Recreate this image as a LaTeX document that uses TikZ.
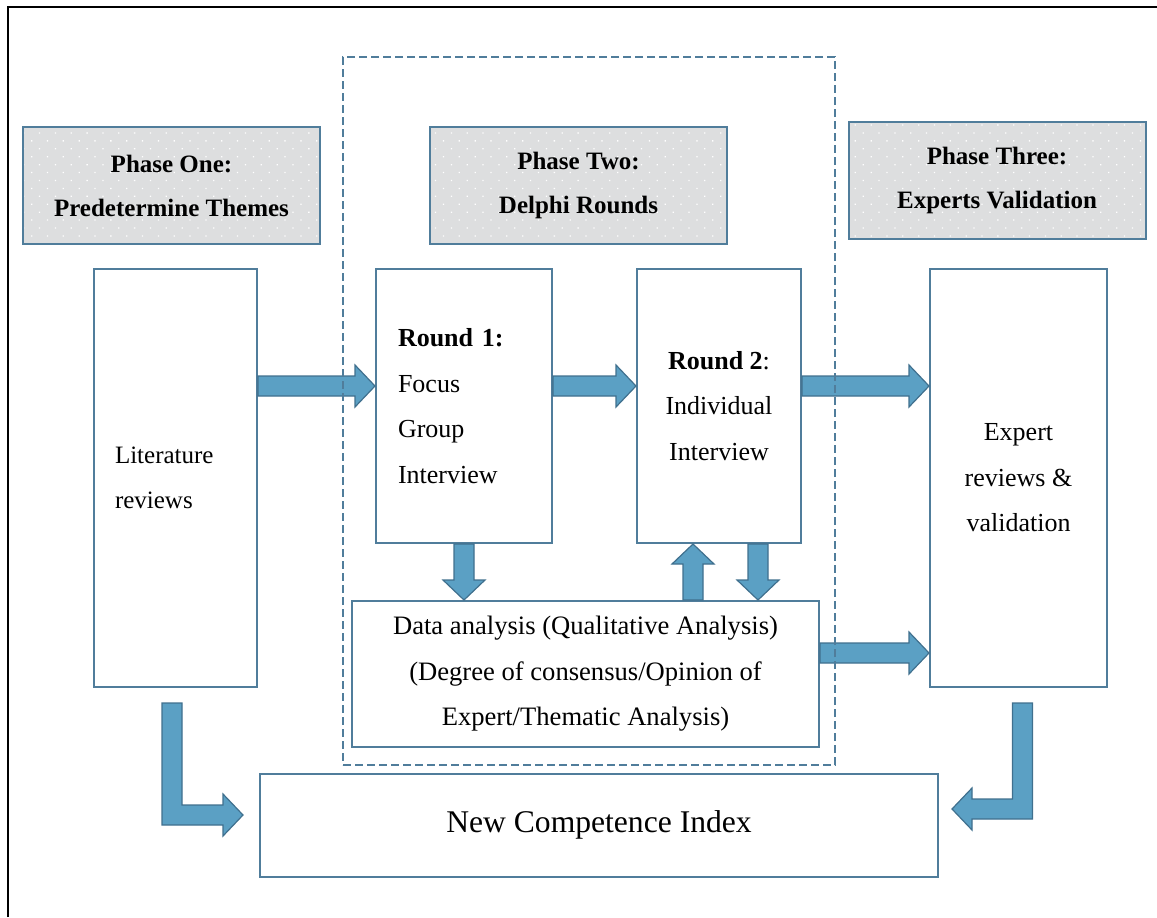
\documentclass[tikz,border=0pt]{standalone}
\usepackage{fontspec}
\setmainfont{Liberation Serif}
\usepackage{tikz}
\usetikzlibrary{calc}
\usetikzlibrary{patterns.meta}
\definecolor{boxline}{RGB}{80,125,155}
\definecolor{arrowfill}{RGB}{91,160,196}
\definecolor{arrowline}{RGB}{64,112,142}
\definecolor{phasefill}{RGB}{221,222,223}
\newcommand{\fatshaft}{5pt}
\newcommand{\fathead}{10.5pt}
\newcommand{\fatlen}{10pt}
\tikzset{every picture/.style={x=0.5pt,y=-0.5pt},
box/.style={draw=boxline,line width=1pt,fill=white,inner sep=0pt,align=center,font=\fontsize{13}{22.75}\selectfont},
phase/.style={draw=boxline,line width=1pt,preaction={fill=phasefill},pattern={Dots[distance=5.6pt,radius=0.45pt,angle=45]},pattern color=white,
  minimum width=148.5pt,minimum height=58.5pt,align=center,font=\fontsize{12.5}{22}\selectfont\bfseries},
fatarrow/.style={draw=arrowline,fill=arrowfill,line width=0.6pt,
  to path={let \p1=(\tikztostart), \p2=(\tikztotarget), \p3=($(\p2)!\fatlen!(\p1)$) in
    ($(\p1)!\fatshaft!90:(\p2)$) -- ($(\p3)!\fatshaft!270:(\p1)$) -- ($(\p3)!\fathead!270:(\p1)$) -- (\p2)
    -- ($(\p3)!\fathead!90:(\p1)$) -- ($(\p3)!\fatshaft!90:(\p1)$) -- ($(\p1)!\fatshaft!270:(\p2)$) -- cycle}},
bentarrow/.style={draw=arrowline,fill=arrowfill,line width=0.6pt,
  to path={let \p1=(\tikztostart), \p2=(\tikztotarget), \n1={(\x2-\x1)/abs(\x2-\x1)} in
    ({\x1-(\n1)*\fatshaft},\y1) -- ({\x1+(\n1)*\fatshaft},\y1) -- ({\x1+(\n1)*\fatshaft},{\y2+\fatshaft})
    -- ({\x2-(\n1)*\fatlen},{\y2+\fatshaft}) -- ({\x2-(\n1)*\fatlen},{\y2+\fathead}) -- (\p2)
    -- ({\x2-(\n1)*\fatlen},{\y2-\fathead}) -- ({\x2-(\n1)*\fatlen},{\y2-\fatshaft})
    -- ({\x1-(\n1)*\fatshaft},{\y2-\fatshaft}) -- cycle}}}
\begin{document}
\begin{tikzpicture}
\useasboundingbox (0,0) rectangle (1157,917);
\draw[line width=1.3pt] (8,917) -- (8,7) -- (1157,7);
% phase headers
\node[phase] (p1) at (171.5,185.5) {Phase One:\\Predetermine Themes};
\node[phase] (p2) at (578.5,185.5) {Phase Two:\\Delphi Rounds};
\node[phase] (p3) at (997,180.5) {Phase Three:\\Experts Validation};
% boxes
\node[box,align=left,text width=60.5pt,inner xsep=10.5pt,minimum height=209pt,font=\fontsize{12.5}{22.5}\selectfont] (lit) at (175.5,478) {Literature\\reviews};
\node[box,align=left,text width=66pt,inner xsep=11pt,minimum height=137pt] (r1) at (464,406) {\textbf{Round 1:}\\Focus\\Group\\Interview};
\node[box,minimum width=82pt,minimum height=137pt] (r2) at (719,406) {\textbf{Round 2}:\\Individual\\Interview};
\node[box,minimum width=88.5pt,minimum height=209pt] (expert) at (1018.5,478) {Expert\\reviews \&\\validation};
\node[box,minimum width=233.5pt,minimum height=73pt,font=\fontsize{13.3}{22.8}\selectfont] (da) at (585.5,674) {Data analysis (Qualitative Analysis)\\(Degree of consensus/Opinion of\\Expert/Thematic Analysis)};
\node[box,minimum width=339pt,minimum height=51.5pt,font=\fontsize{15.8}{20}\selectfont] (nci) at (599,825) {New Competence Index};
% arrows
\coordinate (flow) at (0,386);
\coordinate (back) at (0,653);
\coordinate (upcol) at (693,0);
\coordinate (downcol) at (758,0);
\draw[fatarrow] (lit.east |- flow) to (r1.west |- flow);
\draw[fatarrow] (r1.east |- flow) to (r2.west |- flow);
\draw[fatarrow] (r2.east |- flow) to (expert.west |- flow);
\draw[fatarrow] (da.east |- back) to (expert.west |- back);
\draw[fatarrow] (r1.south) to (r1.south |- da.north);
\draw[fatarrow] (upcol |- da.north) to (upcol |- r2.south);
\draw[fatarrow] (downcol |- r2.south) to (downcol |- da.north);
\draw[bentarrow] ([shift={(-3.5,15)}]lit.south) to ([shift={(-16,-10)}]nci.west);
\draw[bentarrow] ([shift={(4,15)}]expert.south) to ([shift={(13,-16)}]nci.east);
% delphi frame
\node[draw=boxline,line width=1pt,dash pattern=on 4pt off 2pt,minimum width=246pt,minimum height=354pt,inner sep=0pt] (delphi) at (589,411) {};
\end{tikzpicture}
\end{document}
